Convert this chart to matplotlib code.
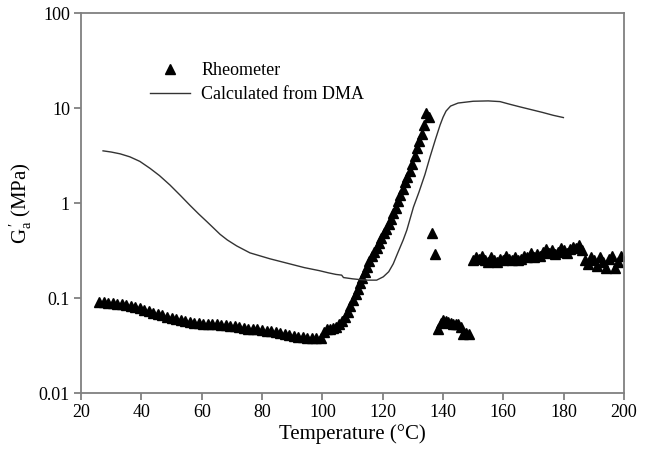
import numpy as np
import matplotlib
matplotlib.use("Agg")
import matplotlib.pyplot as plt

# Rheometer data (triangles)
rheo_T = [26, 27.5, 29, 30.5, 32, 33.5, 35, 36.5, 38, 39.5, 41, 42.5, 44, 45.5, 47, 48.5,
          50, 51.5, 53, 54.5, 56, 57.5, 59, 60.5, 62, 63.5, 65, 66.5, 68, 69.5, 71, 72.5,
          74, 75.5, 77, 78.5, 80, 81.5, 83, 84.5, 86, 87.5, 89, 90.5, 92, 93.5, 95, 96.5,
          98, 99.5,
          100.5, 101.5, 102.5, 103.5, 104.5, 105.5, 106.5, 107.5, 108.5, 109.3, 110.2, 111,
          111.8, 112.6, 113.3, 114, 114.8, 115.6, 116.4, 117.2, 118, 118.8, 119.6, 120.4,
          121.2, 122, 122.8, 123.5, 124.3, 125, 125.8, 126.6, 127.4, 128.2, 129, 129.8,
          130.6, 131.4, 132.2, 133, 133.7, 134.5, 135.5,
          136.3, 137.3,
          138.5, 139.3, 140.1, 141, 141.8, 142.6, 143.4, 144.2, 145, 145.8, 146.7, 147.7, 148.7,
          150, 151, 152, 153, 154, 155, 156, 157, 158, 159, 160, 161, 162, 163, 164, 165,
          166, 167, 168, 169, 170, 171, 172, 173, 174, 175, 176, 177, 178, 179, 180, 181,
          182, 183, 184, 185, 186, 187, 188, 189, 190, 191, 192, 193, 194, 195, 196, 197,
          198, 199]
rheo_G = [0.092, 0.091, 0.090, 0.089, 0.088, 0.087, 0.085, 0.083, 0.081, 0.079, 0.076, 0.073,
          0.070, 0.068, 0.066, 0.064, 0.062, 0.060, 0.059, 0.057, 0.056, 0.055, 0.055, 0.054,
          0.054, 0.053, 0.053, 0.052, 0.052, 0.051, 0.051, 0.050, 0.049, 0.048, 0.048, 0.047,
          0.046, 0.045, 0.045, 0.044, 0.043, 0.042, 0.041, 0.040, 0.039, 0.039, 0.038, 0.038,
          0.038, 0.038,
          0.044, 0.047, 0.048, 0.049, 0.050, 0.053, 0.058, 0.064, 0.072, 0.082, 0.095, 0.11,
          0.125, 0.145, 0.165, 0.19, 0.215, 0.245, 0.28, 0.31, 0.34, 0.38, 0.43, 0.48,
          0.54, 0.6, 0.68, 0.78, 0.9, 1.05, 1.22, 1.42, 1.65, 1.9, 2.2, 2.6,
          3.1, 3.8, 4.5, 5.4, 6.6, 8.8, 8.1,
          0.48, 0.29,
          0.047, 0.055, 0.059, 0.057, 0.056, 0.055, 0.054, 0.053, 0.054, 0.050, 0.042, 0.043, 0.042,
          0.25, 0.27, 0.26, 0.28, 0.25, 0.24, 0.27, 0.25, 0.24, 0.26, 0.25, 0.28, 0.26, 0.25,
          0.27, 0.25, 0.26, 0.28, 0.27, 0.30, 0.27, 0.29, 0.28, 0.31, 0.33, 0.30, 0.32, 0.29,
          0.31, 0.34, 0.32, 0.30, 0.33, 0.35, 0.34, 0.36, 0.32, 0.25, 0.23, 0.27, 0.25, 0.22,
          0.27, 0.24, 0.21, 0.26, 0.28, 0.21, 0.24, 0.28]

# Calculated from DMA (line)
dma_T = [27.3, 30, 33, 36.2, 39.5, 42.9, 46, 49.5, 53, 56.1, 59, 61.7, 64, 66.1, 68.5,
         71.6, 76, 82.6, 88, 94, 99, 102, 104.5, 106.4, 107, 110, 112.5, 115, 118, 120.2,
         122, 123.5, 125, 126.8, 128, 130.2, 132, 134, 135.7, 137.5, 139, 140, 141,
         142.5, 145, 150, 155, 158.9, 162, 165.5, 170, 173, 176.5, 179.9]
dma_G = [3.55, 3.45, 3.3, 3.07, 2.75, 2.32, 1.95, 1.55, 1.2, 0.95, 0.77, 0.64, 0.545, 0.47,
         0.41, 0.355, 0.3, 0.26, 0.235, 0.21, 0.195, 0.185, 0.178, 0.175, 0.165, 0.16, 0.157,
         0.155, 0.155, 0.168, 0.19, 0.23, 0.3, 0.41, 0.52, 0.91, 1.3, 2.0, 3.07, 4.7, 6.6,
         8.0, 9.3, 10.5, 11.3, 11.8, 11.9, 11.7, 11.0, 10.3, 9.5, 9.0, 8.4, 7.95]

plt.rcParams['font.family'] = ['Liberation Serif', 'DejaVu Serif']
plt.rcParams['mathtext.fontset'] = 'stix'

fig = plt.figure(figsize=(6.55, 4.55), dpi=100)
ax = fig.add_axes([0.1237, 0.1356, 0.829, 0.8358])

ax.plot(rheo_T, rheo_G, linestyle='none', marker='^', color='black', markersize=6.5,
        label='Rheometer')
ax.plot(dma_T, dma_G, color='#333333', linewidth=1.0, label='Calculated from DMA')

ax.set_yscale('log')
ax.set_xlim(20, 200)
ax.set_ylim(0.01, 100)
ax.set_xticks(np.arange(20, 201, 20))
ax.set_yticks([0.01, 0.1, 1, 10, 100])
ax.set_yticklabels(['0.01', '0.1', '1', '10', '100'])
ax.minorticks_off()

for s in ax.spines.values():
    s.set_color('#808080')
    s.set_linewidth(1.3)
ax.tick_params(direction='out', length=5, width=1.3, color='#808080', labelsize=13,
               top=False, right=False, pad=3)

ax.set_xlabel('Temperature (°C)', fontsize=15, labelpad=2)
ax.set_ylabel(r"$\mathregular{G_a^{\,\prime}}$ (MPa)", fontsize=15, labelpad=3)

ax.legend(loc='upper left', bbox_to_anchor=(0.113, 0.89), frameon=False, fontsize=13,
          handlelength=2.25, handletextpad=0.6, borderaxespad=0, labelspacing=0.4)

fig.savefig('out.png', dpi=100)
